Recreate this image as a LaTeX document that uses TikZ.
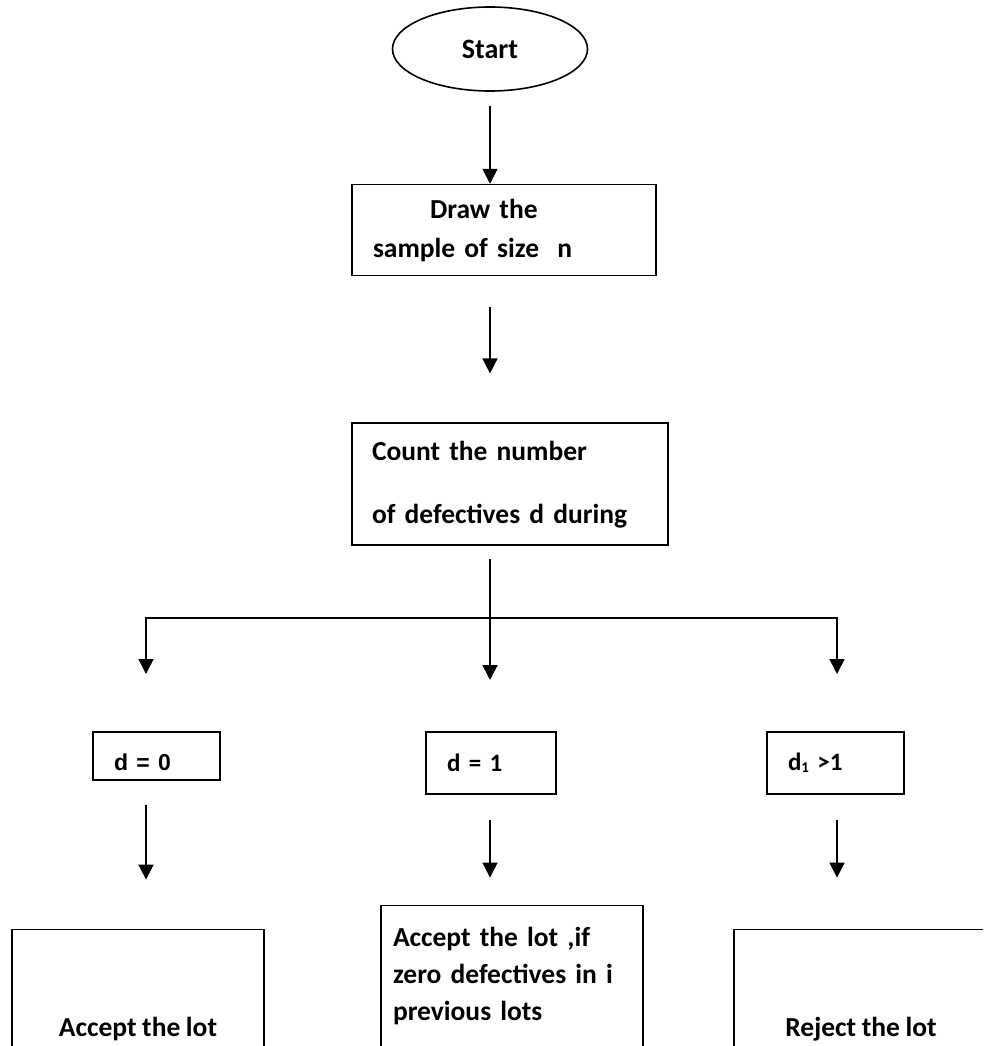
\documentclass[tikz,border=0pt]{standalone}
\usepackage{fontspec}
\setmainfont[WordSpace=0.9]{Carlito}
\newfontfamily\arialfont{Liberation Sans}
\usetikzlibrary{shapes.geometric, arrows.meta, positioning, calc}

\begin{document}
\begin{tikzpicture}[
  x=1pt, y=-1pt,
  node distance=1.5cm,
  terminal/.style={ellipse, draw=black, line width=1.6pt, minimum width=195pt,
    minimum height=84pt, inner sep=0pt, font=\bfseries\fontsize{28}{33}\selectfont},
  process/.style={rectangle, draw=black, line width=1.6pt, align=left,
    inner ysep=0pt, font=\bfseries\fontsize{27.5}{33}\selectfont},
  test/.style={process, inner xsep=21pt, font=\bfseries\fontsize{25}{30}\selectfont},
  flow/.style={-{Triangle[length=15pt, width=15pt]}, line width=1.6pt},
  branch/.style={line width=1.6pt, line cap=rect}
]
  \useasboundingbox (0,0) rectangle (983,1046);
  \clip (0,0) rectangle (983,1046);

  \node[terminal] (start) at (490,49) {Start};
  \node[process, below=92pt of start, xshift=14pt, inner xsep=21pt,
    text width=262pt, minimum height=91pt] (sample)
    {\hspace*{57pt}Draw the\\[6pt]sample of size~~n};
  \node[process, below=146pt of sample, xshift=6pt, inner xsep=20pt,
    text width=276pt, minimum height=122pt] (count)
    {Count the number\\[30pt]of defectives d during};

  \coordinate (bl) at (146,618);
  \coordinate (bm) at (490,618);
  \coordinate (br) at (837,618);

  \node[test, below=113pt of bl, xshift=10.5pt, text width=85pt,
    minimum height=48pt, text height=30pt, text depth=0pt] (dzero)
    {\arialfont\fontsize{23}{28}\selectfont d = 0};
  \node[test, below=113pt of bm, xshift=1pt, text width=88pt,
    minimum height=62pt] (done) {d = 1};
  \node[test, below=113pt of br, xshift=-1.5pt, text width=95pt,
    minimum height=62pt] (dmore)
    {d\raisebox{-2pt}{\fontsize{15}{15}\selectfont 1} >1};

  \node[process, below=148pt of dzero, xshift=-18.5pt, align=center,
    minimum width=252pt, minimum height=200pt] (accept) {Accept the lot};
  \node[process, below=110pt of done, xshift=21pt, inner xsep=12pt,
    text width=238pt, minimum height=142pt] (acceptif)
    {Accept the lot ,if\\[4pt]zero defectives in i\\[4pt]previous lots};
  \node[process, below=134pt of dmore, xshift=25.5pt, align=center,
    minimum width=254pt, minimum height=200pt] (reject) {Reject the lot};

  \draw[flow, shorten <=14pt] (start.south) -- (start.south |- sample.north);
  \draw[flow, shorten <=31pt, shorten >=49pt] (start |- sample.south)
    -- (start |- count.north);
  \draw[flow, shorten <=13pt, shorten >=51pt] (bm |- count.south)
    -- (bm |- done.north);
  \draw[branch] (bl) -- (br);
  \draw[flow, shorten >=57pt] (bl) -- (bl |- dzero.north);
  \draw[flow, shorten >=57pt] (br) -- (br |- dmore.north);

  \draw[flow, shorten <=24pt, shorten >=49pt] (bl |- dzero.south)
    -- (bl |- accept.north);
  \draw[flow, shorten <=25pt, shorten >=27pt] (bm |- done.south)
    -- (bm |- acceptif.north);
  \draw[flow, shorten <=25pt, shorten >=51pt] (br |- dmore.south)
    -- (br |- reject.north);
\end{tikzpicture}
\end{document}
